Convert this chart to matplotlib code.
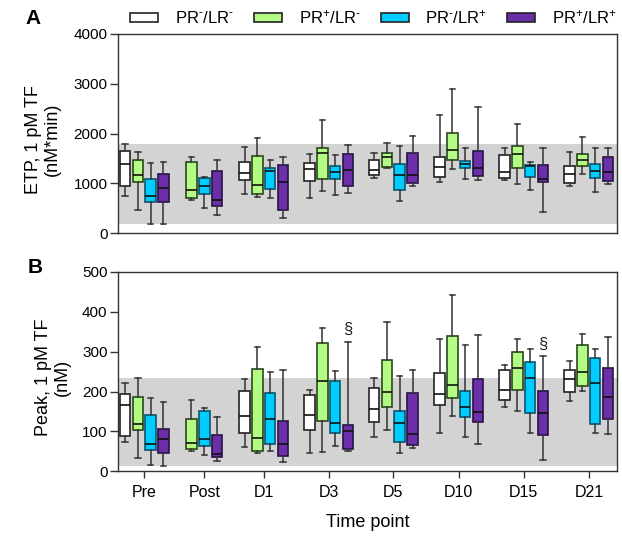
import matplotlib
matplotlib.use("Agg")
import matplotlib.pyplot as plt
from matplotlib.patches import Patch

plt.rcParams['font.family'] = ['Liberation Sans', 'DejaVu Sans']
plt.rcParams['mathtext.fontset'] = 'custom'
plt.rcParams['mathtext.rm'] = 'Liberation Sans'
plt.rcParams['mathtext.default'] = 'regular'

# time points and groups
timepoints = ["Pre", "Post", "D1", "D3", "D5", "D10", "D15", "D21"]
groups = ["PR$^{\u2010}$/LR$^{\u2010}$", "PR$^{+}$/LR$^{\u2010}$",
          "PR$^{\u2010}$/LR$^{+}$", "PR$^{+}$/LR$^{+}$"]

# box stats: [whisker low, q1, median, q3, whisker high], None = not shown
etp_white = [[740, 940, 1400, 1660, 1790], None, [790, 1070, 1220, 1430, 1740],
             [700, 1060, 1300, 1420, 1600], [1110, 1170, 1280, 1470, 1610],
             [1030, 1140, 1330, 1530, 2370], [1070, 1110, 1230, 1570, 1710],
             [950, 1010, 1200, 1350, 1630]]
etp_green = [[470, 1020, 1170, 1470, 1630], [670, 700, 870, 1430, 1530],
             [730, 790, 970, 1550, 1910], [850, 1100, 1620, 1710, 2280],
             [1310, 1340, 1530, 1610, 1810], [1300, 1480, 1680, 2010, 2890],
             [990, 1310, 1600, 1750, 2200], [1190, 1360, 1470, 1590, 1930]]
etp_cyan = [[180, 630, 740, 1090, 1410], [510, 790, 950, 1110, 1130],
            [700, 890, 1260, 1320, 1470], [770, 1100, 1240, 1350, 1570],
            [640, 860, 1170, 1390, 1750], [1090, 1310, 1390, 1450, 1720],
            [860, 1130, 1360, 1370, 1430], [830, 1110, 1260, 1390, 1710]]
etp_purple = [[180, 630, 900, 1190, 1430], [370, 540, 660, 1250, 1470],
              [310, 460, 1030, 1370, 1530], [810, 940, 1270, 1590, 1770],
              [940, 1010, 1180, 1610, 1950], [1070, 1160, 1320, 1650, 2540],
              [430, 1020, 1090, 1370, 1720], [980, 1060, 1230, 1540, 1720]]

peak_white = [[74, 89, 166, 194, 222], None, [61, 97, 138, 202, 231],
              [47, 104, 141, 192, 205], [86, 124, 155, 210, 233],
              [95, 167, 193, 246, 331], [161, 179, 204, 253, 266],
              [176, 198, 231, 254, 276]]
peak_green = [[33, 103, 118, 186, 233], [50, 55, 71, 130, 179],
              [45, 51, 84, 256, 312], [48, 127, 227, 322, 359],
              [104, 162, 199, 279, 375], [138, 184, 216, 340, 443],
              [151, 204, 258, 298, 331], [201, 213, 249, 317, 345]]
peak_cyan = [[15, 54, 68, 140, 184], [41, 64, 82, 151, 160],
             [50, 69, 132, 196, 248], [64, 95, 120, 226, 251],
             [46, 74, 121, 152, 240], [85, 136, 161, 202, 318],
             [95, 146, 233, 273, 306], [95, 118, 222, 283, 306]]
peak_purple = [[13, 47, 80, 107, 174], [27, 35, 44, 90, 136],
               [23, 39, 68, 127, 253], [50, 55, 100, 115, 324],
               [59, 65, 94, 197, 253], [68, 123, 148, 232, 341],
               [28, 91, 146, 201, 288], [93, 130, 187, 258, 338]]

# reference ranges (grey band)
etp_ref = [180, 1790]
peak_ref = [13, 235]

# significance marks: (time point index, group index)
peak_marks = [(3, 3), (6, 3)]

colors = ['#ffffff', '#b3fb84', '#00ccff', '#6b30a8']
edges = ['#222222', '#2a4a1a', '#0b5670', '#2a1248']

# layout (x positions in pixel-like units)
group_x = [0, 60, 119.5, 184.5, 249, 314.5, 379.5, 444.5]
step = 12.8
bw = 10.5

fig = plt.figure(figsize=(6.22, 5.37), dpi=100)
axA = fig.add_axes([0.1897, 0.5655, 0.8023, 0.3712])
axB = fig.add_axes([0.1897, 0.1224, 0.8023, 0.3711])


def draw(ax, series, ref):
    ax.axhspan(ref[0], ref[1], color='#d3d3d3', zorder=0, lw=0)
    for i in range(len(timepoints)):
        present = [s for s in range(4) if series[s][i] is not None]
        n = len(present)
        for k, s in enumerate(present):
            v = series[s][i]
            st = dict(whislo=v[0], q1=v[1], med=v[2], q3=v[3], whishi=v[4], fliers=[])
            pos = group_x[i] + (k - (n - 1) / 2) * step
            ax.bxp([st], positions=[pos], widths=bw, showfliers=False,
                   patch_artist=True, manage_ticks=False,
                   boxprops=dict(facecolor=colors[s], edgecolor=edges[s], linewidth=1.2),
                   medianprops=dict(color='#111111', linewidth=1.2),
                   whiskerprops=dict(color='#333333', linewidth=1.1),
                   capprops=dict(color='#333333', linewidth=1.1))
    ax.set_xlim(-26.3, 472.7)
    for sp in ax.spines.values():
        sp.set_linewidth(1.0)
        sp.set_color('#333333')
        sp.set_zorder(5)
    ax.tick_params(axis='y', direction='out', length=5.5, width=1.0,
                   color='#333333', labelsize=11, pad=2)


draw(axA, [etp_white, etp_green, etp_cyan, etp_purple], etp_ref)
axA.set_ylim(0, 4000)
axA.set_yticks([0, 1000, 2000, 3000, 4000])
axA.set_xticks([])
axA.set_ylabel("ETP, 1 pM TF\n(nM*min)", fontsize=13, linespacing=1.1)
axA.yaxis.set_label_coords(-0.115, 0.47)

draw(axB, [peak_white, peak_green, peak_cyan, peak_purple], peak_ref)
axB.set_ylim(0, 500)
axB.set_yticks([0, 100, 200, 300, 400, 500])
axB.set_xticks(group_x)
axB.set_xticklabels(timepoints)
axB.tick_params(axis='x', direction='out', length=5, width=1.0,
                color='#333333', labelsize=11.5, pad=5)
axB.set_ylabel("Peak, 1 pM TF\n(nM)", fontsize=13, linespacing=1.1)
axB.yaxis.set_label_coords(-0.095, 0.47)
axB.set_xlabel("Time point", fontsize=13, labelpad=10)

peak_all = [peak_white, peak_green, peak_cyan, peak_purple]
for i, s in peak_marks:
    axB.text(group_x[i] + (s - 1.5) * step, peak_all[s][i][4] + 12, "\u00a7",
             ha='center', va='bottom', fontsize=12, color='#222222')

fig.text(0.053, 0.965, "A", fontsize=15, fontweight='bold', ha='center', va='center')
fig.text(0.056, 0.501, "B", fontsize=15, fontweight='bold', ha='center', va='center')

handles = [Patch(facecolor=colors[s], edgecolor='#222222', linewidth=1.2) for s in range(4)]
fig.legend(handles, groups, loc='center', bbox_to_anchor=(0.6005, 0.968), ncol=4,
           frameon=False, fontsize=12, handlelength=1.68, handleheight=0.44,
           handletextpad=1.0, columnspacing=1.2, borderpad=0)

fig.savefig("out.png", dpi=100)
